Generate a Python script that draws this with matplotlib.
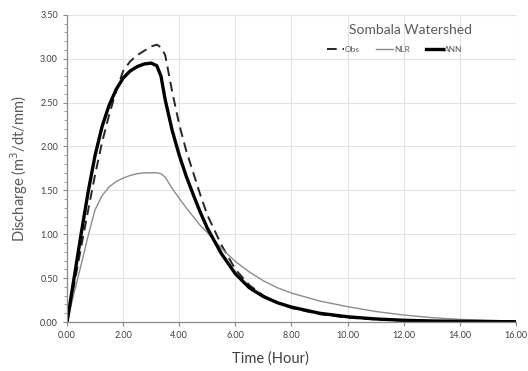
import matplotlib.pyplot as plt
from matplotlib.ticker import MultipleLocator, FormatStrFormatter

# Unit hydrograph, Sombala watershed: observed vs. NLR and ANN models
time_hr = [0, 0.25, 0.5, 0.75, 1.0, 1.25, 1.5, 1.75, 2.0, 2.25, 2.5, 2.75,
           3.0, 3.2, 3.35, 3.5, 3.75, 4.0, 4.25, 4.5, 4.75, 5.0, 5.5, 6.0,
           6.5, 7.0, 7.5, 8.0, 9, 10, 11, 12, 13, 14, 15, 16]

obs = [0, 0.42, 0.85, 1.27, 1.68, 2.05, 2.36, 2.63, 2.86, 2.97, 3.04, 3.09,
       3.14, 3.16, 3.13, 3.04, 2.62, 2.25, 1.95, 1.70, 1.45, 1.22, 0.88, 0.60,
       0.42, 0.30, 0.22, 0.16, 0.09, 0.05, 0.03, 0.015, 0.01, 0.006, 0.004, 0.002]

nlr = [0, 0.33, 0.65, 0.98, 1.28, 1.44, 1.54, 1.60, 1.64, 1.67, 1.69, 1.70,
       1.70, 1.70, 1.69, 1.65, 1.52, 1.41, 1.30, 1.20, 1.10, 1.02, 0.84, 0.69,
       0.57, 0.47, 0.39, 0.33, 0.24, 0.175, 0.12, 0.08, 0.05, 0.03, 0.02, 0.01]

ann = [0, 0.50, 1.00, 1.48, 1.90, 2.23, 2.47, 2.65, 2.78, 2.86, 2.91, 2.94,
       2.95, 2.92, 2.80, 2.53, 2.18, 1.90, 1.66, 1.45, 1.25, 1.07, 0.78, 0.55,
       0.39, 0.29, 0.22, 0.17, 0.10, 0.06, 0.035, 0.02, 0.012, 0.008, 0.005, 0.003]

plt.rcParams['font.family'] = ['Lato', 'DejaVu Sans']

fig = plt.figure(figsize=(5.28, 3.71), dpi=100)
ax = fig.add_axes([0.127, 0.132, 0.850, 0.828])

ax.plot(time_hr, obs, color='#262626', lw=1.4, ls=(0, (5, 3)), label='Obs')
ax.plot(time_hr, nlr, color='#8c8c8c', lw=1.0, label='NLR')
ax.plot(time_hr, ann, color='black', lw=2.4, label='ANN')

ax.set_xlim(0, 16)
ax.set_ylim(0, 3.5)
ax.xaxis.set_major_locator(MultipleLocator(2))
ax.yaxis.set_major_locator(MultipleLocator(0.5))
ax.yaxis.set_minor_locator(MultipleLocator(0.1))
ax.xaxis.set_major_formatter(FormatStrFormatter('%.2f'))
ax.yaxis.set_major_formatter(FormatStrFormatter('%.2f'))

ax.grid(True, color='#e3e3e3', lw=0.8)
ax.set_axisbelow(True)
for side in ['top', 'right']:
    ax.spines[side].set_visible(False)
for side in ['left', 'bottom']:
    ax.spines[side].set_color('#8c8c8c')
    ax.spines[side].set_linewidth(0.9)

ax.tick_params(axis='both', which='major', labelsize=6.5, labelcolor='#404040',
               color='#8c8c8c', length=3, width=0.8)
ax.tick_params(axis='y', which='minor', color='#8c8c8c', length=2, width=0.6)

ax.set_xlabel('Time (Hour)', fontsize=10.5, color='#404040')
ax.set_ylabel('Discharge (m$^3$/dt/mm)', fontsize=10.5, color='#595959')
ax.xaxis.set_label_coords(0.454, -0.095)
ax.yaxis.set_label_coords(-0.083, 0.5)

# watershed name sits above a one-row legend
ax.text(0.766, 0.951, 'Sombala Watershed', transform=ax.transAxes,
        ha='center', va='center', fontsize=10, color='#595959')
leg = ax.legend(loc='center', bbox_to_anchor=(0.73, 0.886), ncol=3,
                frameon=False, fontsize=6, handlelength=2.0, handletextpad=0.1,
                columnspacing=2.0, borderpad=0)
for txt in leg.get_texts():
    txt.set_color('#595959')

fig.savefig('out.png', dpi=100)
